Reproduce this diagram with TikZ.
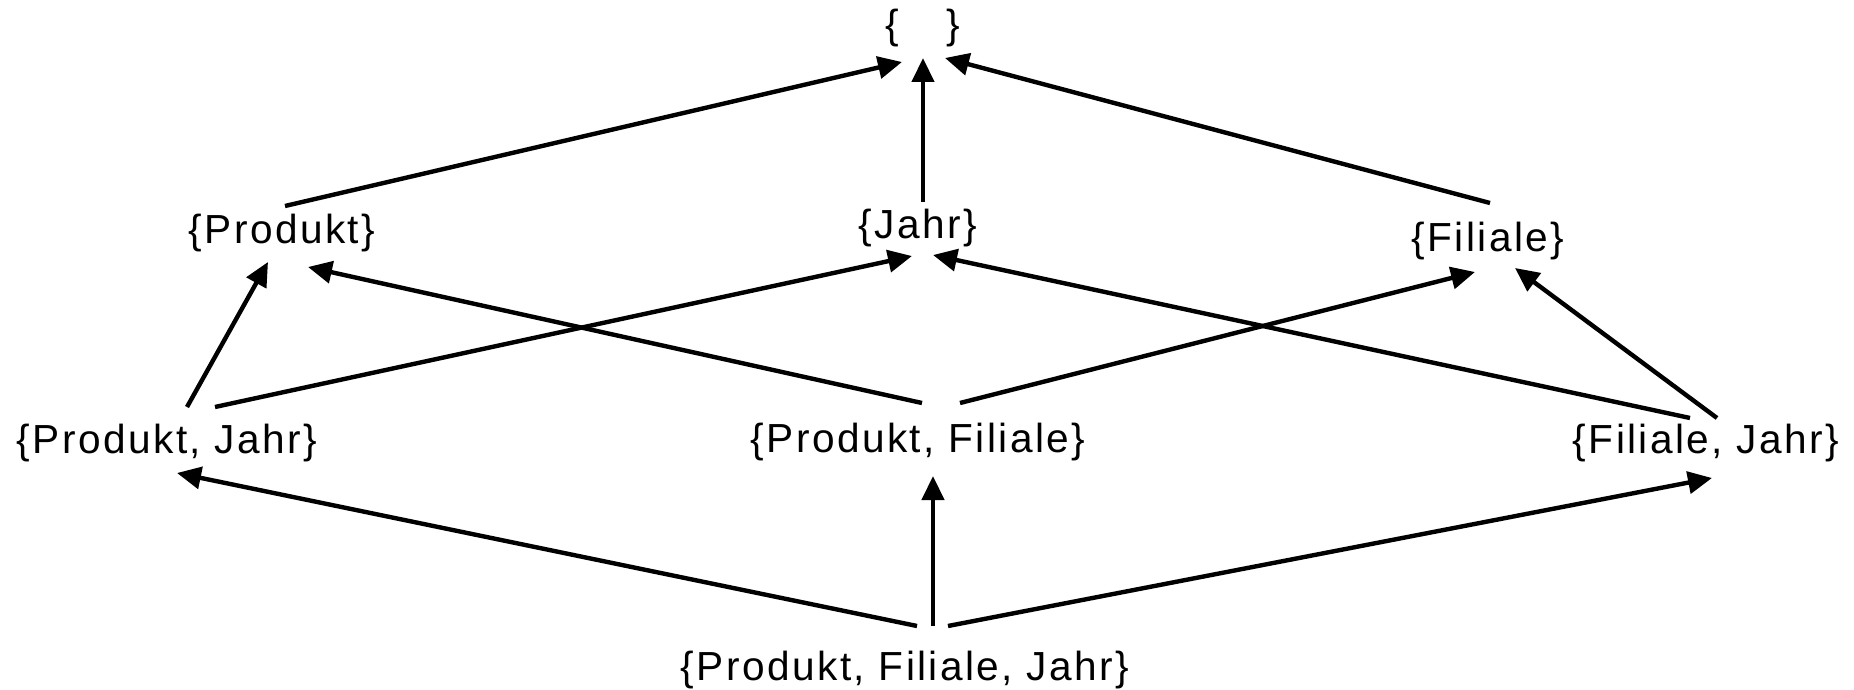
\documentclass[tikz,border=0pt]{standalone}
\usepackage{fontspec}
\setmainfont{Liberation Sans}[LetterSpace=6]
\usepackage{tikz}
\usetikzlibrary{calc}
\usetikzlibrary{arrows.meta}

\begin{document}
\begin{tikzpicture}[x=0.5pt, y=-0.5pt,
		lbl/.style={inner sep=0pt, font=\fontsize{20.3}{24}\selectfont},
		edge/.style={line width=2.2pt, -{Triangle[length=12pt,width=11pt]}}]
				\useasboundingbox (0,0) rectangle (1854,690);
				
				\node[lbl] (E) at (923,28) {\{\hspace{24pt}\}};
				\node[lbl] (P) at (282,233) {\{Produkt\}};
				\node[lbl] (J) at (918,228) {\{Jahr\}};
				\node[lbl] (F) at (1488,241) {\{Filiale\}};
				\node[lbl] (PJ) at (167,443) {\{Produkt, Jahr\}};
				\node[lbl] (PF) at (918,442) {\{Produkt, Filiale\}};
				\node[lbl] (FJ) at (1706,443) {\{Filiale, Jahr\}};
				\node[lbl] (PFJ) at (905,670) {\{Produkt, Filiale, Jahr\}};
				
				\draw[edge] ($(P)+(3,-27)$) -- ($(E)+(-21,34)$);
				\draw[edge] ($(J)+(5,-26)$) -- ($(E)+(0,30)$);
				\draw[edge] ($(F)+(2,-38)$) -- ($(E)+(22,30)$);
				
				\draw[edge] ($(PJ)+(20,-36)$) -- ($(P)+(-14,29)$);
				\draw[edge] ($(PJ)+(48,-36)$) -- ($(J)+(-6,28)$);
				\draw[edge] ($(PF)+(4,-39)$) -- ($(P)+(26,34)$);
				\draw[edge] ($(PF)+(42,-39)$) -- ($(F)+(-13,31)$);
				\draw[edge] ($(FJ)+(-16,-25)$) -- ($(J)+(15,27)$);
				\draw[edge] ($(FJ)+(11,-25)$) -- ($(F)+(27,27)$);
				
				\draw[edge] ($(PFJ)+(12,-44)$) -- ($(PJ)+(10,30)$);
				\draw[edge] ($(PFJ)+(28,-44)$) -- ($(PF)+(15,34)$);
				\draw[edge] ($(PFJ)+(43,-44)$) -- ($(FJ)+(6,35)$);
			\end{tikzpicture}
\end{document}
